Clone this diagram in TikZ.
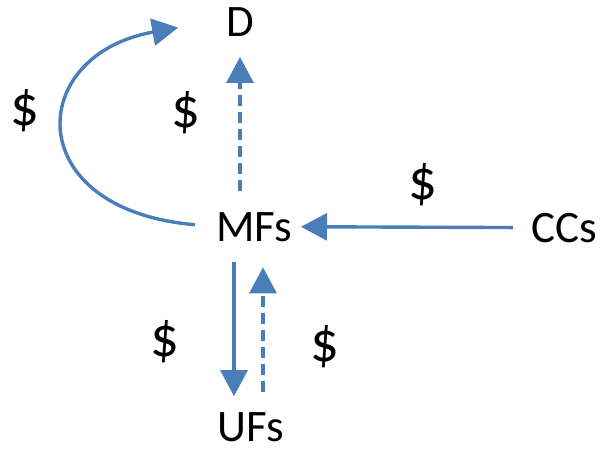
\documentclass[tikz,border=0pt]{standalone}
\usepackage{fontspec}
\setmainfont{Carlito}
\usetikzlibrary{arrows.meta}
\definecolor{flowblue}{RGB}{74,126,187}
\begin{document}
\begin{tikzpicture}[x=1pt,y=1pt,
  lbl/.style={inner sep=0pt,outer sep=0pt,font=\fontsize{45}{54}\selectfont,text=black},
  money/.style={lbl,font=\fontsize{57}{66}\selectfont},
  flow/.style={draw=flowblue,line width=3.4pt,-{Triangle[length=26pt,width=27pt]}},
  dflow/.style={flow,dash pattern=on 11pt off 6pt}]
\useasboundingbox (0,0) rectangle (600,451);
% nodes
\node[lbl,anchor=base] (D)   at (240,414) {D};
\node[lbl,anchor=base] (MFs) at (254,210) {MFs};
\node[lbl,anchor=base] (UFs) at (251,10)  {UFs};
\node[lbl,anchor=base] (CCs) at (564,209) {CCs};
% money labels
\node[money] (s1) at (25,340)  {\$};
\node[money] (s2) at (186,338) {\$};
\node[money] (s3) at (423,266) {\$};
\node[money] (s4) at (165,109) {\$};
\node[money] (s5) at (325,104) {\$};
% connectors
\draw[flow] ([xshift=-18pt]CCs.west) -- ([xshift=9pt]MFs.east);
\draw[flow] ([xshift=-20pt,yshift=-21pt]MFs.south) -- ([xshift=-17pt,yshift=16pt]UFs.north);
\draw[dflow] ([xshift=12pt,yshift=20pt]UFs.north) -- ([xshift=9pt,yshift=-26pt]MFs.south);
\draw[dflow] ([xshift=-14pt,yshift=21pt]MFs.north) -- ([yshift=-20pt]D.south);
\draw[flow] ([xshift=-21pt,yshift=2pt]MFs.west) .. controls (20,241) and (25,396) .. ([xshift=-48pt,yshift=-5pt]D.west);
\end{tikzpicture}
\end{document}
